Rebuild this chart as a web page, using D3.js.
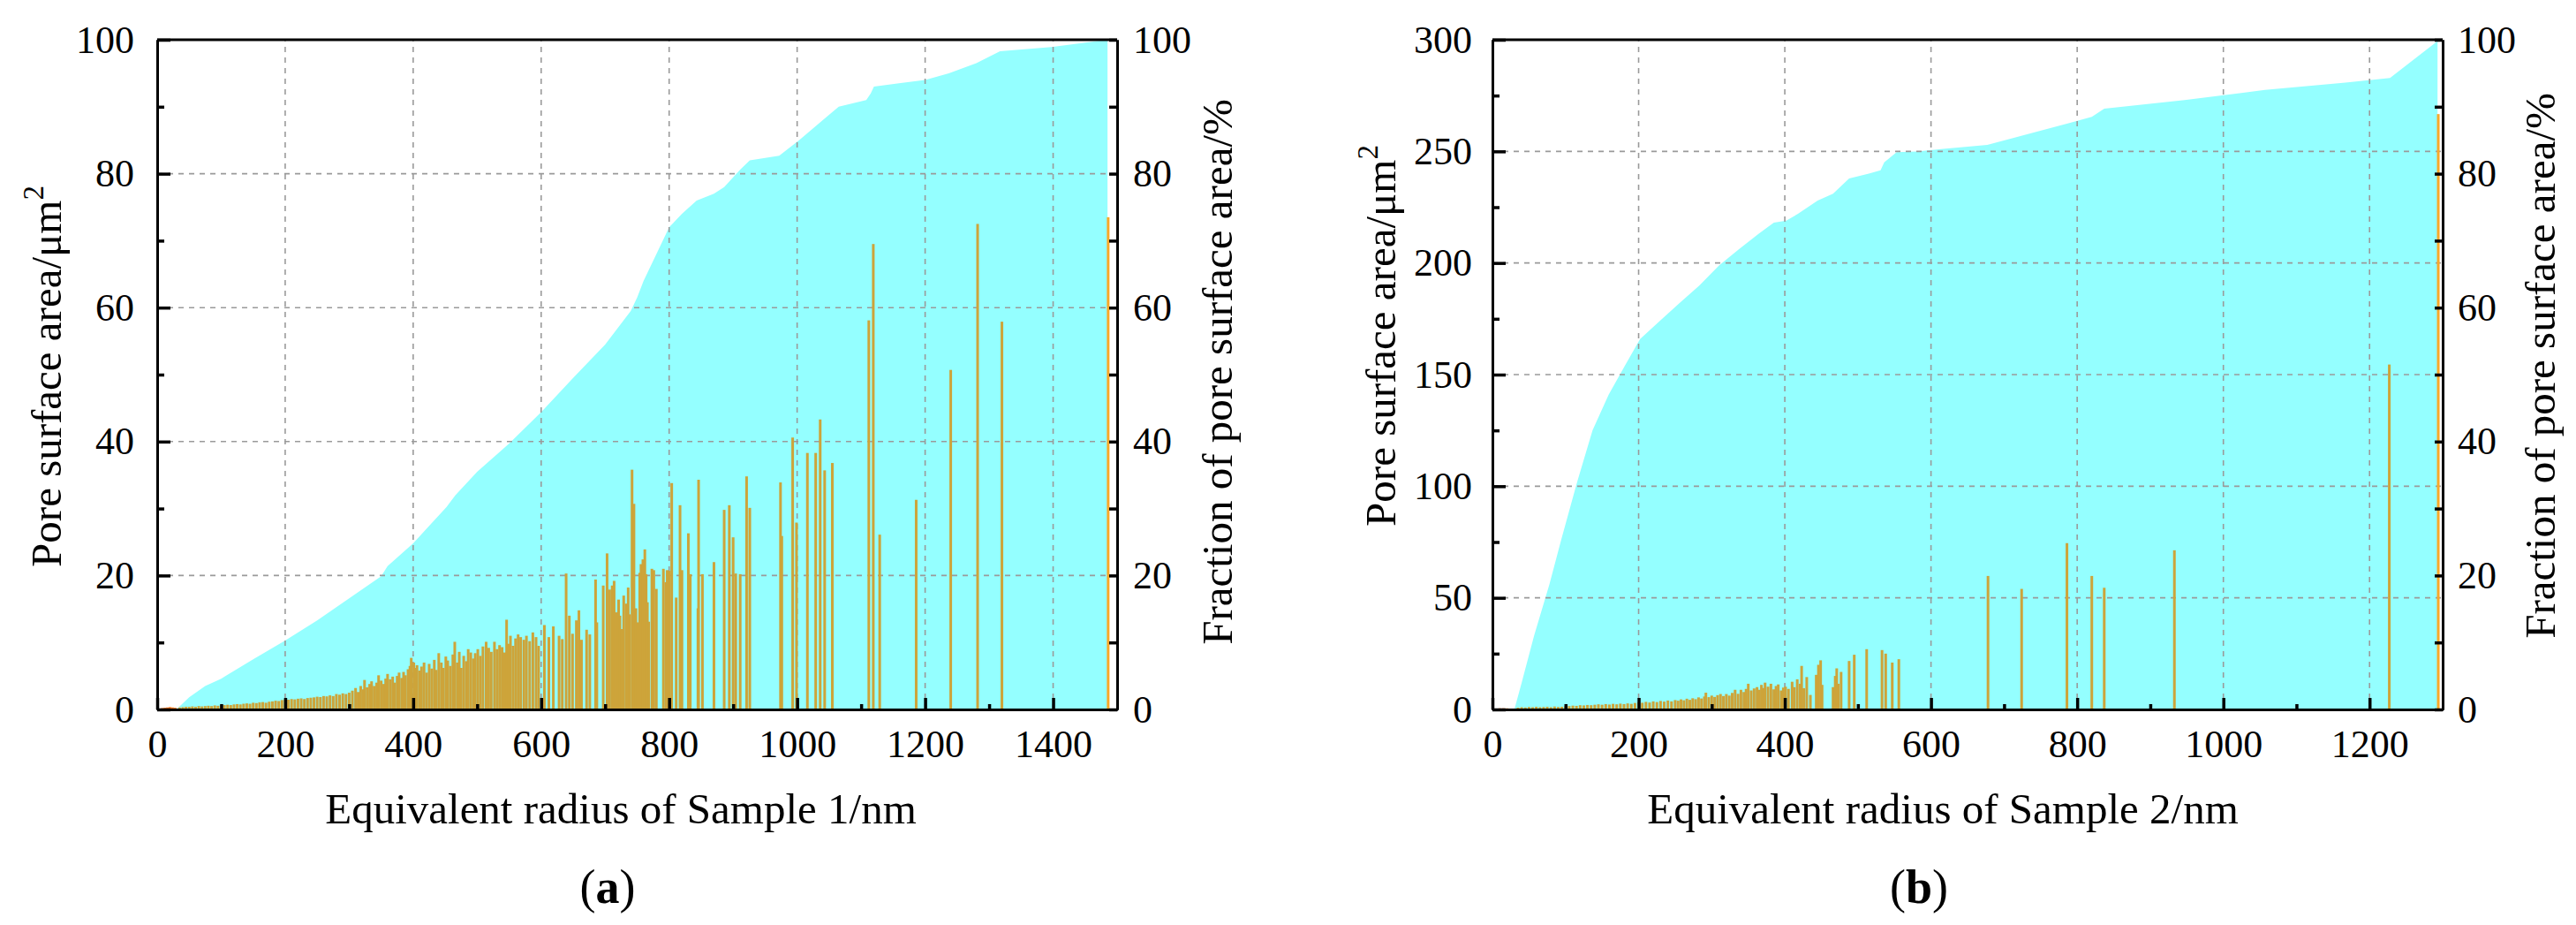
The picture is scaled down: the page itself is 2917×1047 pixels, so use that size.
<!DOCTYPE html>
<html>
<head>
<meta charset="utf-8">
<script src="https://cdn.jsdelivr.net/npm/d3@7"></script>
<style>
    body { margin: 0; background: #fff; }
    text { font-family: "Liberation Serif", "Times New Roman", serif; }
</style>
</head>
<body>
<div id="chart"></div>
<script>
// ---- panel (a): Sample 1 ----
// cumulative fraction of pore surface area (%), right axis
const cumA_r = [30, 50, 75, 100, 150, 200, 250, 300, 350, 360, 400, 424, 452, 466, 500, 550, 600, 650, 700, 720, 740, 750, 760, 775, 790, 800, 820, 843, 870, 886, 911, 926, 972, 1003, 1040, 1065, 1108, 1115, 1120, 1200, 1237, 1280, 1317, 1397, 1485];
const cumA_v = [0, 1.8, 3.5, 4.6, 7.5, 10.3, 13.3, 16.6, 19.9, 21.4, 24.8, 27.3, 30.2, 32, 35.5, 39.7, 44.4, 49.5, 54.5, 57, 59.5, 61.5, 64, 67, 70, 72, 74, 76, 77, 78, 80.6, 82, 82.7, 85, 88, 90, 91, 92, 93, 94, 95, 96.5, 98.3, 98.9, 100];

// pore surface area per radius (um^2), left axis  [radius, value]
const barsA = [
    [8,0.2],[12,0.25],[16,0.3],[20,0.35],[24,0.3],[28,0.25],
    [35,0.3],[40,0.35],[45,0.4],[50,0.4],[55,0.45],[60,0.4],[65,0.5],[70,0.45],[75,0.5],[80,0.55],
    [85,0.5],[90,0.6],[95,0.55],[100,0.6],[105,0.65],[110,0.7],[115,0.65],[120,0.75],[125,0.8],[130,0.75],
    [135,0.85],[140,0.9],[145,0.85],[150,1.0],[155,0.95],[160,1.05],[165,1.1],[170,1.0],[175,1.15],[180,1.2],
    [185,1.3],[190,1.25],[195,1.4],[200,1.5],[205,1.45],[210,1.55],[215,1.5],[220,1.6],[225,1.65],[230,1.55],
    [235,1.7],[240,1.75],[245,1.8],[250,1.9],[255,1.85],[260,2.0],[265,1.95],[270,2.1],[275,2.0],[280,2.3],
    [285,2.2],[290,2.4],[295,2.3],[300,2.5],
    [305,2.8],[310,3.2],[314,2.6],[318,3.5],[322,3.0],[324,4.4],[328,3.3],[332,3.8],[335,4.2],[339,3.5],
    [343,4.0],[346,5.1],[350,4.3],[354,3.8],[357,4.6],[360,5.3],[364,4.5],[368,4.9],[371,4.0],[375,5.0],
    [378,5.5],[382,4.7],[385,5.6],[388,5.1],[392,6.0],[395,6.5],[397,7.7],[401,7.0],[404,6.2],[406,6.6],
    [410,5.8],[413,6.4],[417,7.0],[421,5.5],[425,6.8],[429,6.1],[433,7.4],[436,5.9],[440,8.4],[444,7.0],
    [447,6.2],[451,7.9],[454,7.3],[458,6.5],[462,8.2],[465,10.1],[469,7.0],[472,8.6],[475,6.2],[479,8.0],
    [483,7.2],[486,9.0],[490,8.5],[494,7.6],[497,8.4],
    [501,9.0],[505,8.0],[509,9.4],[514,10.1],[518,9.2],[522,8.6],[527,10.1],[531,9.0],[535,9.6],[539,9.3],
    [543,8.5],[546,13.4],[549,9.8],[552,11.0],[556,9.5],[560,10.6],[564,11.2],[568,10.8],[573,10.4],[577,11.0],
    [582,10.2],[587,11.5],[592,10.8],[596,9.5],
    [605,12.6],[612,10.8],[619,12.4],[628,11.0],[633,10.5],[639,20.3],[644,14.0],[649,11.3],[655,13.3],[659,14.8],
    [663,10.4],[671,11.9],[676,11.2],[685,19.4],[687,13.0],[697,18.5],[703,23.3],[707,17.9],[711,18.5],[714,19.2],
    [717,14.5],
    [721,16.4],[723,14],[726,12],[729,17],[733,15.8],[736,18.2],[738,14.2],[742,35.8],[745,30.7],[748,15.1],
    [751,13],[754,20.4],[756,21.7],[759,22.4],[762,23.9],[764,20.2],[766,16],[768,13.1],[773,21],[776,20.8],
    [780,18],[791,21],[795,19],[797,20.8],[800,20.7],[804,33.8],[811,16.7],[817,30.5],[820,20.8],[830,26.3],
    [833,20.2],[845,15.1],[846,34.3],[852,20.2],[870,22],[886,29.8],[894,30.5],[900,25.7],[904,20.3],[911,20.2],
    [921,34.8],[926,30.1],[974,33.9],[976,25.9],[993,40.6],[999,27.9],[1016,38.3],[1029,38.3],[1036,43.3],[1043,35.7],
    [1055,36.8],[1112,58.1],[1119,69.5],[1129,26.1],[1186,31.3],[1240,50.7],[1282,72.5],[1320,57.9],[1486,73.5]
];

// ---- panel (b): Sample 2 ----
const cumB_r = [30, 40, 57, 78, 94, 116, 137, 159, 181, 202, 229, 256, 283, 310, 337, 364, 385, 402, 418, 445, 466, 488, 515, 531, 536, 553, 580, 617, 677, 787, 820, 837, 947, 1057, 1167, 1228, 1293];
const cumB_v = [0, 4, 11, 18.7, 25.3, 34, 41.7, 47, 51.3, 55.3, 58, 60.7, 63.3, 66.3, 68.7, 71, 72.7, 73, 74, 76, 77, 79.3, 80, 80.5, 81.7, 83.2, 83.3, 83.7, 84.3, 87.5, 88.5, 89.7, 91, 92.5, 93.6, 94.3, 99.8];

const barsB = [
    [5,0.4],[10,0.5],[15,0.5],[20,0.5],[25,0.4],[30,0.4],
    [35,0.8],[40,1.0],[45,0.9],[50,1.1],[55,1.0],[60,1.2],[65,1.0],[70,1.1],[75,1.2],[80,1.0],
    [85,1.3],[90,1.1],[95,1.2],[100,1.4],[105,1.5],[110,1.7],[115,1.6],[120,1.9],[125,1.8],[130,2.0],
    [135,1.9],[140,2.1],[145,2.3],[150,2.1],[155,2.4],[160,2.2],[165,2.5],[170,2.3],[175,2.6],[180,2.4],
    [185,2.7],[190,2.5],[195,2.9],[200,3.2],[205,3.0],[210,3.4],[215,3.1],[220,3.6],[225,3.3],[230,3.8],
    [235,3.5],[240,4.0],[245,3.6],[250,4.2],[254,3.9],[258,4.5],[262,4.1],[266,4.8],[270,4.3],[274,5.0],
    [278,4.6],[282,5.4],[286,4.9],[290,5.8],[292,7.5],[296,5.5],[300,6.2],[304,5.6],[308,6.4],[312,6.9],
    [316,6.0],[320,6.9],[324,6.2],[328,7.4],[332,8.8],[336,7.0],[340,8.8],[344,7.8],[347,9.2],[350,11.5],
    [354,8.5],[358,9.4],[362,10],[365,8.8],[368,11],[371,9.6],[373,12],[377,10.2],[381,11.5],[385,9.0],
    [388,10.5],[391,11.2],[395,8.5],[398,9.8],[401,10.2],[405,9.2],[410,12.4],[413,10.0],[417,13.5],[421,11.5],
    [423,19.5],[426,9.5],[430,14.5],[435,6.5],[443,15.5],[446,20],[449,22],[451,11],[466,10],[469,15],
    [471,18.4],[473,11.5],[477,16.8],[488,21.7],[495,24.5],[512,27],[533,26.6],[538,25],[547,21],[556,22.5],
    [678,59.8],[724,54],[786,74.5],[820,59.8],[837,54.5],[933,71.3],[1227,154.5],[1294,266.7]
];

// axis ticks
const xTicksA = [0, 200, 400, 600, 800, 1000, 1200, 1400];
const xMinorA = [100, 300, 500, 700, 900, 1100, 1300];
const yTicksA = [0, 20, 40, 60, 80, 100];
const yMinorA = [10, 30, 50, 70, 90];
const xTicksB = [0, 200, 400, 600, 800, 1000, 1200];
const xMinorB = [100, 300, 500, 700, 900, 1100];
const yTicksB = [0, 50, 100, 150, 200, 250, 300];
const yMinorB = [25, 75, 125, 175, 225, 275];
const rTicks = [0, 20, 40, 60, 80, 100];
const rMinor = [10, 30, 50, 70, 90];

const width = 2917, height = 1047;
const svg = d3.select("#chart").append("svg")
    .attr("width", width)
    .attr("height", height)
    .style("display", "block");
svg.append("rect").attr("width", width).attr("height", height).attr("fill", "#fff");

function drawPanel(p) {
    let g = svg.append("g");
    let x = d3.scaleLinear().domain([0, p.xMax]).range([p.left, p.right]);
    let yL = d3.scaleLinear().domain([0, p.yMax]).range([p.bottom, p.top]);
    let yR = d3.scaleLinear().domain([0, 100]).range([p.bottom, p.top]);

    // cumulative curve as filled area
    let pts = p.cumR.map((r, i) => [r, p.cumV[i]]);
    g.append("path")
        .datum(pts)
        .attr("fill", "#94ffff")
        .attr("d", d3.area().x(d => x(d[0])).y0(p.bottom).y1(d => yR(d[1])));

    // dashed grid
    let grid = g.append("g")
        .attr("stroke", "#9a9a9a")
        .attr("stroke-width", 1.6)
        .attr("stroke-dasharray", "6,6");
    grid.selectAll(".gx")
        .data(p.xTicks.filter(v => v > 0))
        .join("line")
        .attr("x1", d => x(d)).attr("x2", d => x(d))
        .attr("y1", p.bottom).attr("y2", p.top);
    grid.selectAll(".gy")
        .data(p.yTicks.filter(v => v > 0 && v < p.yMax))
        .join("line")
        .attr("x1", p.left).attr("x2", p.right)
        .attr("y1", d => yL(d)).attr("y2", d => yL(d));

    // bars
    let last = p.bars.length - 1;
    g.append("g")
        .selectAll("rect")
        .data(p.bars)
        .join("rect")
        .attr("x", d => x(d[0]) - p.barW / 2)
        .attr("width", p.barW)
        .attr("y", d => yL(d[1]))
        .attr("height", d => p.bottom - yL(d[1]))
        .attr("fill", (d, i) => d[0] <= 30 ? "#ff7a1e" : (i === last ? "#f7a82a" : "#cda43a"));

    // top frame line
    g.append("line")
        .attr("x1", p.left).attr("x2", p.right)
        .attr("y1", p.top).attr("y2", p.top)
        .attr("stroke", "#000").attr("stroke-width", 3);

    let styleAxis = function (sel) {
        sel.attr("font-family", '"Liberation Serif", serif')
            .attr("font-size", 44)
            .attr("stroke-width", 3);
        sel.select(".domain").attr("stroke-width", 3);
        sel.selectAll(".tick line").attr("stroke-width", 3.5);
        sel.selectAll(".tick text").attr("fill", "#000");
    };

    // bottom axis
    g.append("g")
        .attr("transform", `translate(0,${p.bottom})`)
        .call(d3.axisBottom(x).tickValues(p.xMinor).tickSize(-6).tickSizeOuter(0).tickFormat(""))
        .call(styleAxis);
    g.append("g")
        .attr("transform", `translate(0,${p.bottom})`)
        .call(d3.axisBottom(x).tickValues(p.xTicks).tickSize(-13).tickSizeOuter(0).tickPadding(23).tickFormat(d3.format("d")))
        .call(styleAxis);

    // left axis
    g.append("g")
        .attr("transform", `translate(${p.left},0)`)
        .call(d3.axisLeft(yL).tickValues(p.yMinor).tickSize(-8).tickSizeOuter(0).tickFormat(""))
        .call(styleAxis);
    g.append("g")
        .attr("transform", `translate(${p.left},0)`)
        .call(d3.axisLeft(yL).tickValues(p.yTicks).tickSize(-15).tickSizeOuter(0).tickPadding(p.padL).tickFormat(d3.format("d")))
        .call(styleAxis);

    // right axis (percent)
    g.append("g")
        .attr("transform", `translate(${p.right},0)`)
        .call(d3.axisRight(yR).tickValues(rMinor).tickSize(-9).tickSizeOuter(0).tickFormat(""))
        .call(styleAxis);
    g.append("g")
        .attr("transform", `translate(${p.right},0)`)
        .call(d3.axisRight(yR).tickValues(rTicks).tickSize(-9).tickSizeOuter(0).tickPadding(p.padR).tickFormat(d3.format("d")))
        .call(styleAxis);

    // axis titles
    let lt = g.append("text")
        .attr("transform", `translate(${p.ltX},${p.ltY}) rotate(-90)`)
        .attr("text-anchor", "middle")
        .attr("font-size", 49);
    lt.append("tspan").text("Pore surface area/μm");
    lt.append("tspan").attr("dy", -20).attr("font-size", 33).text("2");

    g.append("text")
        .attr("transform", `translate(${p.rtX},${p.rtY}) rotate(-90)`)
        .attr("text-anchor", "middle")
        .attr("font-size", 49)
        .text("Fraction of pore surface area/%");

    g.append("text")
        .attr("x", p.xtX).attr("y", p.xtY)
        .attr("text-anchor", "middle")
        .attr("font-size", 49)
        .text(p.xTitle);

    let cap = g.append("text")
        .attr("x", p.capX).attr("y", 1022)
        .attr("text-anchor", "middle")
        .attr("font-size", 54);
    cap.append("tspan").text("(");
    cap.append("tspan").attr("font-weight", "bold").text(p.cap);
    cap.append("tspan").text(")");
}

drawPanel({
    left: 178, right: 1265, top: 45, bottom: 803,
    xMax: 1500, yMax: 100,
    cumR: cumA_r, cumV: cumA_v, bars: barsA, barW: 3,
    xTicks: xTicksA, xMinor: xMinorA, yTicks: yTicksA, yMinor: yMinorA,
    padL: 26, padR: 18,
    ltX: 69, ltY: 426, rtX: 1395, rtY: 421,
    xtX: 703, xtY: 932, xTitle: "Equivalent radius of Sample 1/nm",
    capX: 688, cap: "a"
});

drawPanel({
    left: 1690, right: 2766, top: 45, bottom: 803,
    xMax: 1300, yMax: 300,
    cumR: cumB_r, cumV: cumB_v, bars: barsB, barW: 3,
    xTicks: xTicksB, xMinor: xMinorB, yTicks: yTicksB, yMinor: yMinorB,
    padL: 23, padR: 17,
    ltX: 1580, ltY: 380, rtX: 2893, rtY: 414,
    xtX: 2200, xtY: 932, xTitle: "Equivalent radius of Sample 2/nm",
    capX: 2173, cap: "b"
});
</script>
</body>
</html>
